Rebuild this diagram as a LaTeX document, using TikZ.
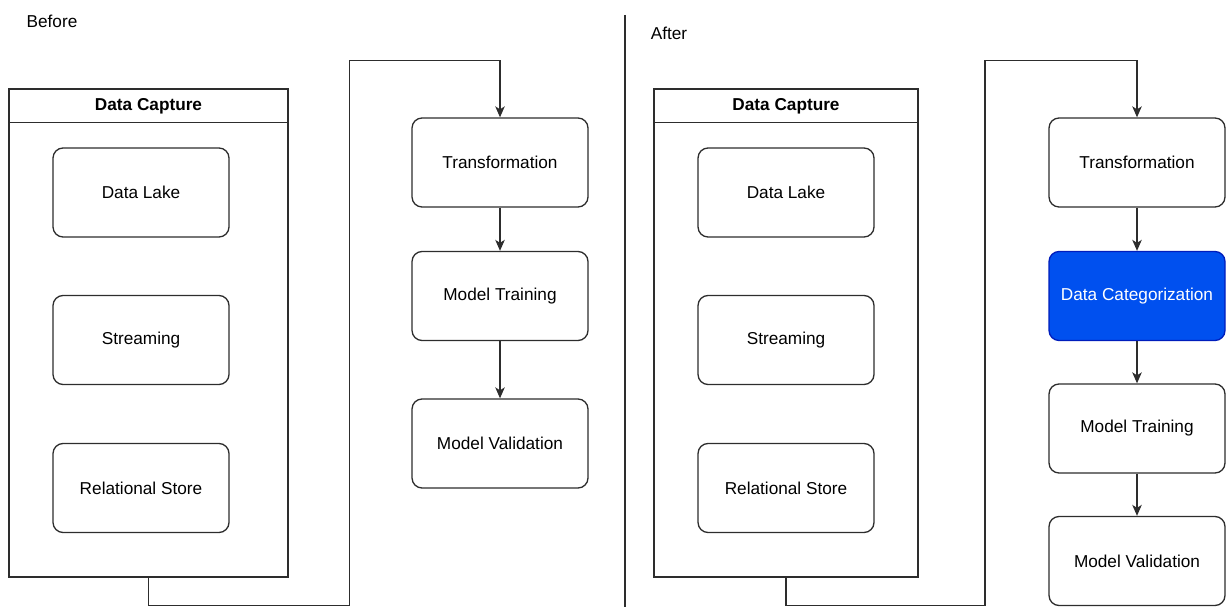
\documentclass[tikz,border=0pt]{standalone}
\usepackage{fontspec}
\setmainfont{Liberation Sans}
\RequirePackage{xcolor}
\definecolor{catblue}{RGB}{0,80,239}
\definecolor{catborder}{RGB}{0,29,188}
\definecolor{lineclr}{RGB}{45,45,45}
\tikzset{every picture/.style={/utils/exec={\fontsize{9.8}{11}\selectfont}}}
\usetikzlibrary{arrows.meta}
\usetikzlibrary{positioning}
\tikzset{
  stage/.style={draw=lineclr, line width=0.75pt, rounded corners=0.2cm,
    minimum width=3.52cm, minimum height=1.78cm, inner sep=0pt, align=center},
  store/.style={stage},
  pool/.style={draw=lineclr, line width=0.75pt, minimum width=5.58cm,
    minimum height=9.76cm, inner sep=0pt},
  flow/.style={draw=lineclr, line width=0.75pt, -{Stealth[length=0.22cm,width=0.19cm,inset=0.06cm]}}
}

\begin{document}
\begin{tikzpicture}[x=0.02cm, y=-0.02cm]
  \useasboundingbox (0,0) rectangle (1226,607);

  % before
  \node (before) at (52,21) {Before};
  \node [pool] (capL) at (148.5,333) {};
  \draw [lineclr, line width=0.75pt] ([yshift=-0.68cm]capL.north west) -- ([yshift=-0.68cm]capL.north east);
  \node [font=\bfseries] (capLtitle) at (148.5,106.5) {Data Capture};
  \node [store] (lakeL) at (141,192.5) {Data Lake};
  \node [store] (streamL) at (141,340) {Streaming};
  \node [store] (relL) at (141,488) {Relational Store};

  \node [stage] (transL) at (500,162.5) {Transformation};
  \node [stage] (trainL) at (500,296) {Model Training};
  \node [stage] (validL) at (500,443.5) {Model Validation};

  \draw [flow] (capL.south) -- ++(0,28) -| ++(201,-545) -| (transL.north);
  \draw [flow] (transL) -- (trainL);
  \draw [flow] (trainL) -- (validL);

  % divider
  \coordinate (divtop) at (625,15);
  \coordinate (divbot) at (625,607);
  \draw [lineclr, line width=0.75pt] (divtop) -- (divbot);

  % after
  \node (after) at (669,33) {After};
  \node [pool, minimum width=5.28cm] (capR) at (786,333) {};
  \draw [lineclr, line width=0.75pt] ([yshift=-0.68cm]capR.north west) -- ([yshift=-0.68cm]capR.north east);
  \node [font=\bfseries] (capRtitle) at (786,106.5) {Data Capture};
  \node [store] (lakeR) at (786,192.5) {Data Lake};
  \node [store] (streamR) at (786,340) {Streaming};
  \node [store] (relR) at (786,488) {Relational Store};

  \node [stage] (transR) at (1137,162.5) {Transformation};
  \node [stage, fill=catblue, draw=catborder, text=white] (catR) at (1137,296) {Data Categorization};
  \node [stage] (trainR) at (1137,428.5) {Model Training};
  \node [stage] (validR) at (1137,561) {Model Validation};

  \draw [flow] (capR.south) -- ++(0,28) -| ++(199,-545) -| (transR.north);
  \draw [flow] (transR) -- (catR);
  \draw [flow] (catR) -- (trainR);
  \draw [flow] (trainR) -- (validR);

\end{tikzpicture}
\end{document}
